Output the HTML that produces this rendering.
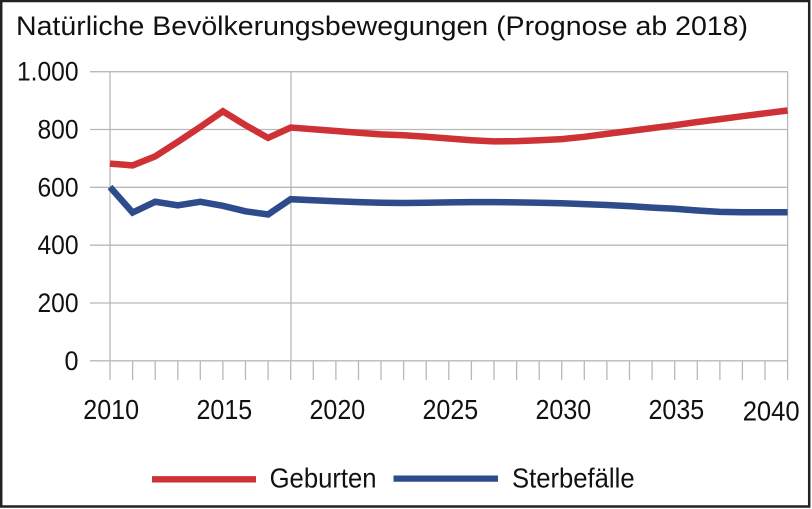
<!DOCTYPE html>
<html>
<head>
<meta charset="utf-8">
<style>
  html,body{margin:0;padding:0;background:#fff;}
  svg{display:block;}
  text{font-family:"Liberation Sans",Arial,sans-serif;fill:#111;}
</style>
</head>
<body>
<svg width="812" height="509" viewBox="0 0 812 509" xmlns="http://www.w3.org/2000/svg">
  <rect x="0" y="0" width="812" height="509" fill="#fff"/>
  <rect x="1.2" y="1" width="808" height="505.5" fill="none" stroke="#222" stroke-width="2.5"/>

  <!-- Title -->
  <text x="16" y="35" font-size="27" textLength="732" lengthAdjust="spacingAndGlyphs">Natürliche Bevölkerungsbewegungen (Prognose ab 2018)</text>

  <!-- Horizontal gridlines -->
  <g stroke="#b8b8b8" stroke-width="1.3">
    <line x1="90" y1="71.7" x2="787.6" y2="71.7"/>
    <line x1="90" y1="129.5" x2="787.6" y2="129.5"/>
    <line x1="90" y1="187.3" x2="787.6" y2="187.3"/>
    <line x1="90" y1="245.2" x2="787.6" y2="245.2"/>
    <line x1="90" y1="303" x2="787.6" y2="303"/>
    <line x1="90" y1="360.8" x2="787.6" y2="360.8"/>
    <!-- vertical gridlines -->
    <line x1="110" y1="71.7" x2="110" y2="360.8"/>
    <line x1="291" y1="71.7" x2="291" y2="360.8"/>
    <line x1="787.6" y1="71.7" x2="787.6" y2="360.8"/>
  </g>

  <!-- Ticks -->
  <g stroke="#b8b8b8" stroke-width="1.3">
    <line x1="110" y1="360.8" x2="110" y2="380"/>
    <line x1="132.6" y1="360.8" x2="132.6" y2="380"/>
    <line x1="155.2" y1="360.8" x2="155.2" y2="380"/>
    <line x1="177.8" y1="360.8" x2="177.8" y2="380"/>
    <line x1="200.3" y1="360.8" x2="200.3" y2="380"/>
    <line x1="222.9" y1="360.8" x2="222.9" y2="380"/>
    <line x1="245.5" y1="360.8" x2="245.5" y2="380"/>
    <line x1="268.1" y1="360.8" x2="268.1" y2="380"/>
    <line x1="290.7" y1="360.8" x2="290.7" y2="380"/>
    <line x1="313.3" y1="360.8" x2="313.3" y2="380"/>
    <line x1="335.9" y1="360.8" x2="335.9" y2="380"/>
    <line x1="358.5" y1="360.8" x2="358.5" y2="380"/>
    <line x1="381.0" y1="360.8" x2="381.0" y2="380"/>
    <line x1="403.6" y1="360.8" x2="403.6" y2="380"/>
    <line x1="426.2" y1="360.8" x2="426.2" y2="380"/>
    <line x1="448.8" y1="360.8" x2="448.8" y2="380"/>
    <line x1="471.4" y1="360.8" x2="471.4" y2="380"/>
    <line x1="494.0" y1="360.8" x2="494.0" y2="380"/>
    <line x1="516.6" y1="360.8" x2="516.6" y2="380"/>
    <line x1="539.2" y1="360.8" x2="539.2" y2="380"/>
    <line x1="561.7" y1="360.8" x2="561.7" y2="380"/>
    <line x1="584.3" y1="360.8" x2="584.3" y2="380"/>
    <line x1="606.9" y1="360.8" x2="606.9" y2="380"/>
    <line x1="629.5" y1="360.8" x2="629.5" y2="380"/>
    <line x1="652.1" y1="360.8" x2="652.1" y2="380"/>
    <line x1="674.7" y1="360.8" x2="674.7" y2="380"/>
    <line x1="697.3" y1="360.8" x2="697.3" y2="380"/>
    <line x1="719.9" y1="360.8" x2="719.9" y2="380"/>
    <line x1="742.4" y1="360.8" x2="742.4" y2="380"/>
    <line x1="765.0" y1="360.8" x2="765.0" y2="380"/>
    <line x1="787.6" y1="360.8" x2="787.6" y2="380"/>
  </g>

  <!-- Y labels -->
  <g font-size="26.5" text-anchor="end">
    <text x="78.5" y="80.7" textLength="61.5" lengthAdjust="spacingAndGlyphs">1.000</text>
    <text x="78.5" y="138.5" textLength="41" lengthAdjust="spacingAndGlyphs">800</text>
    <text x="78.5" y="196.3" textLength="41" lengthAdjust="spacingAndGlyphs">600</text>
    <text x="78.5" y="254.2" textLength="41" lengthAdjust="spacingAndGlyphs">400</text>
    <text x="78.5" y="312" textLength="41" lengthAdjust="spacingAndGlyphs">200</text>
    <text x="78.5" y="369.8" textLength="14" lengthAdjust="spacingAndGlyphs">0</text>
  </g>

  <!-- X labels -->
  <g font-size="28">
    <text x="83.3" y="419" textLength="55.7" lengthAdjust="spacingAndGlyphs">2010</text>
    <text x="196.5" y="419" textLength="55.7" lengthAdjust="spacingAndGlyphs">2015</text>
    <text x="309.5" y="419" textLength="55.7" lengthAdjust="spacingAndGlyphs">2020</text>
    <text x="422.5" y="419" textLength="55.7" lengthAdjust="spacingAndGlyphs">2025</text>
    <text x="535.5" y="419" textLength="55.7" lengthAdjust="spacingAndGlyphs">2030</text>
    <text x="648.5" y="419" textLength="55.7" lengthAdjust="spacingAndGlyphs">2035</text>
    <text x="742.7" y="420.5" textLength="57" lengthAdjust="spacingAndGlyphs">2040</text>
  </g>

  <!-- Series: Geburten -->
  <polyline fill="none" stroke="#cf3236" stroke-width="6.5" stroke-linejoin="miter"
    points="110,163.6 132.6,165.4 155.2,156.4 177.8,141.9 200.3,126.9 222.9,111.3 245.5,125.2 268.1,137.9 290.7,127.5 313.3,129.2 335.9,131.0 358.5,132.7 381.0,134.4 403.6,135.3 426.2,136.8 448.8,138.5 471.4,140.2 494.0,141.4 516.6,141.1 539.2,140.2 561.7,139.1 584.3,136.8 606.9,133.9 629.5,131.0 652.1,128.1 674.7,125.2 697.3,122.0 719.9,119.1 742.4,116.2 765.0,113.3 787.6,110.5"/>

  <!-- Series: Sterbefälle -->
  <polyline fill="none" stroke="#2e4b8c" stroke-width="6.5" stroke-linejoin="miter"
    points="110,187.0 132.6,212.5 155.2,201.8 177.8,205.3 200.3,201.8 222.9,205.8 245.5,211.3 268.1,214.5 290.7,199.2 313.3,200.3 335.9,201.2 358.5,202.1 381.0,202.7 403.6,203.0 426.2,202.7 448.8,202.4 471.4,202.1 494.0,202.1 516.6,202.4 539.2,202.7 561.7,203.2 584.3,204.1 606.9,205.0 629.5,206.1 652.1,207.6 674.7,208.7 697.3,210.5 719.9,211.9 742.4,212.2 765.0,212.2 787.6,212.2"/>

  <!-- Legend -->
  <line x1="152" y1="479.3" x2="256" y2="479.3" stroke="#cf3236" stroke-width="6.3"/>
  <text x="269.6" y="487.7" font-size="27.5" textLength="107" lengthAdjust="spacingAndGlyphs">Geburten</text>
  <line x1="393.5" y1="478.6" x2="498" y2="478.6" stroke="#2e4b8c" stroke-width="6.3"/>
  <text x="512" y="487.7" font-size="27.5" textLength="122.6" lengthAdjust="spacingAndGlyphs">Sterbefälle</text>
</svg>
</body>
</html>
